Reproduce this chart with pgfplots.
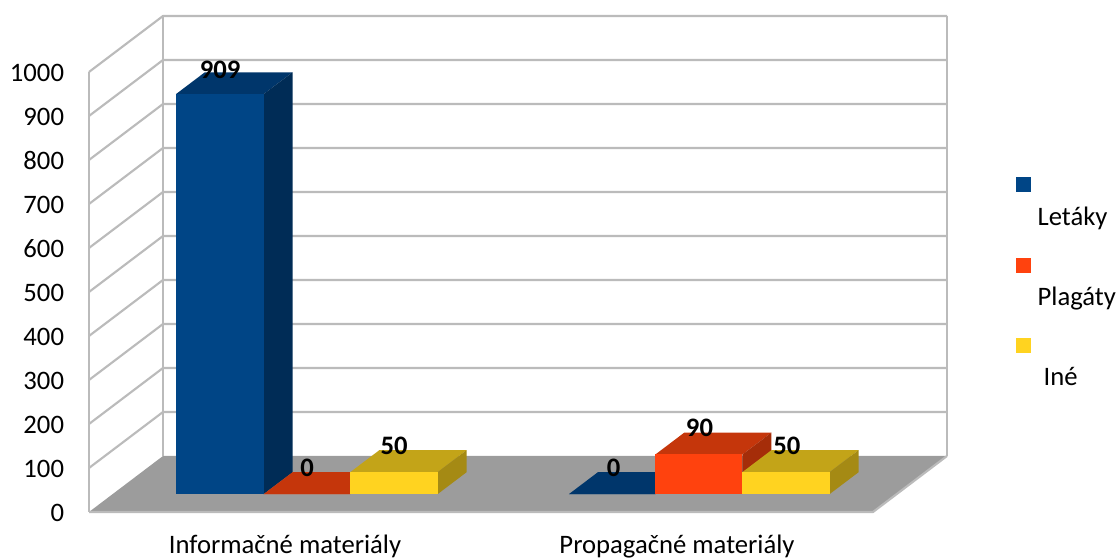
\documentclass[border=0pt]{standalone}
\usepackage{fontspec}
\setmainfont{Carlito}
\usepackage{pgfplots}
\pgfplotsset{compat=1.18}

% colours: front, top, side of each series
\definecolor{blueF}{HTML}{004586}
\definecolor{blueT}{HTML}{00366B}
\definecolor{blueS}{HTML}{002C56}
\definecolor{redF}{HTML}{FF420E}
\definecolor{redT}{HTML}{C5360B}
\definecolor{redS}{HTML}{A52D09}
\definecolor{yelF}{HTML}{FFD320}
\definecolor{yelT}{HTML}{C3A418}
\definecolor{yelS}{HTML}{A58A14}
\definecolor{floorc}{HTML}{9C9C9C}
\definecolor{gridc}{HTML}{BBBBBB}

% one 3d bar: x0, x1, value, colour prefix
\newcommand{\onebar}[4]{%
  \addplot3[draw=none,fill=#4T] coordinates {(#1,0.32,#3)(#2,0.32,#3)(#2,0.71,#3)(#1,0.71,#3)};
  \addplot3[draw=none,fill=#4S] coordinates {(#2,0.32,0)(#2,0.71,0)(#2,0.71,#3)(#2,0.32,#3)};
  \addplot3[draw=none,fill=#4F] coordinates {(#1,0.32,0)(#2,0.32,0)(#2,0.32,#3)(#1,0.32,#3)};
}

\begin{document}
\begin{tikzpicture}
\useasboundingbox (0,0) rectangle (840pt,419.25pt);
\begin{axis}[
  at={(66.75pt,35.25pt)}, anchor=origin,
  x={(294pt,0pt)}, y={(55.5pt,42pt)}, z={(0pt,0.33pt)},
  xmin=0, xmax=2, ymin=0, ymax=1, zmin=0, zmax=1000,
  clip=false,
  axis line style={draw=none},
  major tick length=0pt,
  xtick={0.5,1.5}, xticklabels={Informačné materiály,Propagačné materiály},
  ytick=\empty,
  ztick={0,100,...,1000},
  ztick pos=left,
  /pgf/number format/assume math mode=true,
  /pgf/number format/1000 sep={},
  tick label style={font=\fontsize{20}{24}\selectfont,text=black},
  xticklabel style={anchor=north,yshift=-13.5pt},
  zticklabel style={anchor=east,xshift=-15.2pt,yshift=-0.6pt},
]
% floor
\addplot3[draw=none,fill=floorc] coordinates {(0,0,0)(2,0,0)(2,1,0)(0,1,0)};

% walls and grid
\pgfplotsinvokeforeach{100,200,...,1000}{
  \addplot3[gridc,line width=1.6pt] coordinates {(0,0,#1)(0,1,#1)(2,1,#1)};
}
\addplot3[gridc,line width=1.6pt] coordinates {(0,0,0)(0,0,1000)};
\addplot3[gridc,line width=1.6pt] coordinates {(0,1,0)(0,1,1000)};
\addplot3[gridc,line width=1.6pt] coordinates {(2,1,0)(2,1,1000)};
\addplot3[gridc,line width=1.6pt] coordinates {(0,0,0)(2,0,0)(2,1,0)};

% Informačné materiály
\onebar{0.1615}{0.3852}{909}{blue}
\onebar{0.3852}{0.6064}{0}{red}
\onebar{0.6064}{0.8291}{50}{yel}
% Propagačné materiály
\onebar{1.1640}{1.3845}{0}{blue}
\onebar{1.3845}{1.6066}{90}{red}
\onebar{1.6066}{1.8290}{50}{yel}

% value labels
\tikzset{vlab/.style={font=\fontsize{20}{24}\selectfont\bfseries,yshift=20pt}}
\node[vlab,yshift=-1.5pt] at (axis cs:0.2743,0.32,909) {909};
\node[vlab] at (axis cs:0.4962,0.32,0) {0};
\node[vlab] at (axis cs:0.7181,0.32,50) {50};
\node[vlab] at (axis cs:1.2780,0.32,0) {0};
\node[vlab] at (axis cs:1.4970,0.32,90) {90};
\node[vlab] at (axis cs:1.7200,0.32,50) {50};
\end{axis}

% legend
\fill[blueF] (762pt,275.25pt) rectangle ++(11.25pt,11.25pt);
\fill[redF] (762pt,214.5pt) rectangle ++(11.25pt,11.25pt);
\fill[yelF] (762pt,154.5pt) rectangle ++(11.25pt,11.25pt);
\tikzset{ltxt/.style={font=\fontsize{20}{24}\selectfont,anchor=base west,inner sep=0pt}}
\node[ltxt] at (778pt,250pt) {Letáky};
\node[ltxt] at (778pt,190pt) {Plagáty};
\node[ltxt] at (782.5pt,130pt) {Iné};
\end{tikzpicture}
\end{document}
